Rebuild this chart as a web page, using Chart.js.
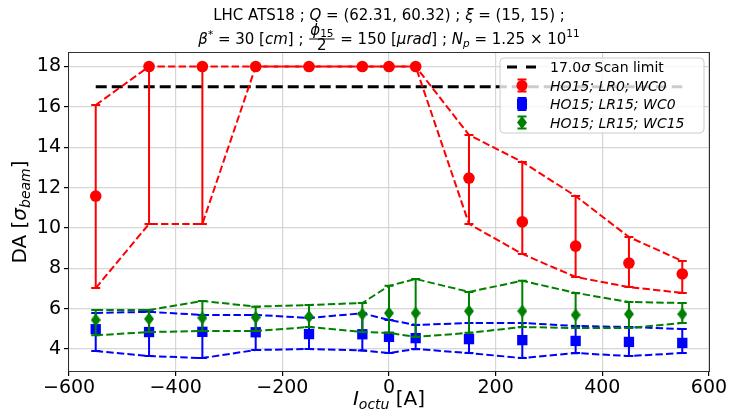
<!DOCTYPE html>
<html><head><meta charset="utf-8">
<script src="https://cdn.jsdelivr.net/npm/chart.js@4.4.0/dist/chart.umd.min.js"></script>
<style>html,body{margin:0;padding:0;background:#fff;}#wrap{width:731px;height:413px;}</style>
</head><body><div id="wrap"><canvas id="c" width="731" height="413"></canvas></div>
<script>
// ---- data ----
const currents = [-550, -450, -350, -250, -150, -50, 0, 50, 150, 250, 350, 450, 550];
const xTicks = [-600, -400, -200, 0, 200, 400, 600];
const yTicks = [4, 6, 8, 10, 12, 14, 16, 18];
const scanLimit = 17.0;

const redMean  = [11.58, 18, 18, 18, 18, 18, 18, 18, 12.47, 10.30, 9.10, 8.26, 7.72];
const redUpper = [16.09, 18, 18, 18, 18, 18, 18, 18, 14.61, 13.27, 11.58, 9.55, 8.36];
const redLower = [7.02, 10.20, 10.20, 18, 18, 18, 18, 18, 10.20, 8.71, 7.57, 7.07, 6.78];

const blueMean  = [4.98, 4.84, 4.85, 4.83, 4.74, 4.73, 4.60, 4.54, 4.49, 4.44, 4.40, 4.35, 4.30];
const blueUpper = [5.79, 5.84, 5.69, 5.69, 5.54, 5.77, 5.44, 5.19, 5.29, 5.29, 5.14, 5.09, 4.99];
const blueLower = [3.90, 3.65, 3.55, 3.95, 4.00, 3.93, 3.80, 4.00, 3.80, 3.55, 3.80, 3.65, 3.80];

const greenMean  = [5.44, 5.49, 5.54, 5.57, 5.60, 5.73, 5.78, 5.78, 5.88, 5.88, 5.69, 5.73, 5.73];
const greenUpper = [5.93, 5.93, 6.38, 6.10, 6.18, 6.28, 7.13, 7.47, 6.83, 7.38, 6.78, 6.33, 6.28];
const greenLower = [4.68, 4.84, 4.89, 4.89, 5.09, 4.84, 4.80, 4.60, 4.80, 5.09, 5.04, 5.04, 5.29];

const seriesLabels = ['17.0σ Scan limit', 'HO15; LR0; WC0', 'HO15; LR15; WC0', 'HO15; LR15; WC15'];

// ---- helpers ----
const FAM = '"DejaVu Sans"';
const RED = '#ff0000', BLUE = '#0000ff', GREEN = '#008000';
const pts = (xs, ys) => xs.map((x, i) => ({x: x, y: ys[i]}));
const fmt = v => (v < 0 ? '\u2212' + Math.abs(v) : String(v));

function thinDiamond(w, h, color) {
  const c = document.createElement('canvas');
  c.width = w; c.height = h;
  const g = c.getContext('2d');
  g.fillStyle = color;
  g.beginPath(); g.moveTo(w / 2, 0); g.lineTo(w, h / 2); g.lineTo(w / 2, h); g.lineTo(0, h / 2); g.closePath(); g.fill();
  return c;
}
const greenDiamond = thinDiamond(10, 13, GREEN);

function measureSegs(ctx, segs) {
  let w = 0;
  segs.forEach(s => {
    if (s.frac) {
      const nw = measureSegs(ctx, s.num);
      const dw = measureSegs(ctx, s.den);
      s.w = Math.max(nw, dw) + 4; s.nw = nw; s.dw = dw;
    } else {
      ctx.font = s.f; s.w = ctx.measureText(s.t).width;
    }
    w += s.w;
  });
  return w;
}
function drawSegs(ctx, segs, x, y) {
  let cx = x;
  segs.forEach(s => {
    if (s.frac) {
      const mid = cx + s.w / 2;
      drawSegs(ctx, s.num, mid - s.nw / 2, y + s.numDy);
      drawSegs(ctx, s.den, mid - s.dw / 2, y + s.denDy);
      ctx.fillRect(cx + 1, y + s.barDy - 0.5, s.w - 2, 1);
    } else {
      ctx.font = s.f; ctx.fillText(s.t, cx, y + (s.dy || 0));
    }
    cx += s.w;
  });
}
function drawRich(ctx, segs, x, y, align) {
  const w = measureSegs(ctx, segs);
  const sx = align === 'left' ? x : (align === 'right' ? x - w : x - w / 2);
  drawSegs(ctx, segs, sx, y);
}

function drawErrorBars(chart, xs, lo, hi, color) {
  const ctx = chart.ctx, X = chart.scales.x, Y = chart.scales.y;
  ctx.save();
  ctx.beginPath(); ctx.rect(chart.chartArea.left, chart.chartArea.top, chart.chartArea.width, chart.chartArea.height); ctx.clip();
  ctx.strokeStyle = color; ctx.lineWidth = 2; ctx.setLineDash([]);
  xs.forEach((x, i) => {
    const px = X.getPixelForValue(x), p1 = Y.getPixelForValue(lo[i]), p2 = Y.getPixelForValue(hi[i]);
    ctx.beginPath();
    ctx.moveTo(px, p1); ctx.lineTo(px, p2);
    ctx.moveTo(px - 4.5, p1); ctx.lineTo(px + 4.5, p1);
    ctx.moveTo(px - 4.5, p2); ctx.lineTo(px + 4.5, p2);
    ctx.stroke();
  });
  ctx.restore();
}

const decorPlugin = {
  id: 'decor',
  beforeDatasetDraw(chart, args) {
    const ds = chart.data.datasets[args.index];
    if (ds.errLo) drawErrorBars(chart, currents, ds.errLo, ds.errHi, ds.errColor);
  },
  afterDraw(chart) {
    const ctx = chart.ctx, a = chart.chartArea;
    ctx.save();
    // frame
    ctx.strokeStyle = 'rgba(0,0,0,0.8)'; ctx.lineWidth = 1; ctx.setLineDash([]);
    ctx.strokeRect(Math.round(a.left) + 0.5, Math.round(a.top) + 0.5, Math.round(a.width) - 1, Math.round(a.height) - 1);

    ctx.fillStyle = '#000'; ctx.textBaseline = 'alphabetic';
    const cx = (a.left + a.right) / 2;
    const n = '15px ' + FAM, it = 'italic 15px ' + FAM, sm = '10.5px ' + FAM, smi = 'italic 10.5px ' + FAM;
    // title line 1
    drawRich(ctx, [
      {t: 'LHC ATS18 ; ', f: n}, {t: 'Q', f: it}, {t: ' = (62.31, 60.32) ; ', f: n},
      {t: 'ξ', f: it}, {t: ' = (15, 15) ;', f: n}
    ], cx, 20, 'center');
    // title line 2
    drawRich(ctx, [
      {t: 'β', f: it}, {t: '*', f: sm, dy: -6}, {t: ' = 30 [', f: n}, {t: 'cm', f: it}, {t: '] ; ', f: n},
      {frac: true, numDy: -9, denDy: 6, barDy: -5,
        num: [{t: 'ϕ', f: it}, {t: '15', f: sm, dy: 2}], den: [{t: '2', f: n}]},
      {t: ' = 150 [', f: n}, {t: 'μrad', f: it}, {t: '] ; ', f: n},
      {t: 'N', f: it}, {t: 'p', f: smi, dy: 3}, {t: ' = 1.25 × 10', f: n}, {t: '11', f: sm, dy: -7}
    ], cx, 44, 'center');

    // x-axis title
    drawRich(ctx, [
      {t: 'I', f: 'italic 20px ' + FAM}, {t: 'octu', f: 'italic 14px ' + FAM, dy: 4}, {t: ' [A]', f: '20px ' + FAM}
    ], cx, 405, 'center');
    // y-axis title
    ctx.save();
    ctx.translate(26, (a.top + a.bottom) / 2);
    ctx.rotate(-Math.PI / 2);
    drawRich(ctx, [
      {t: 'DA [', f: '20px ' + FAM}, {t: 'σ', f: 'italic 20px ' + FAM},
      {t: 'beam', f: 'italic 14px ' + FAM, dy: 4}, {t: ']', f: '20px ' + FAM}
    ], 0, 0, 'center');
    ctx.restore();

    // legend
    const lx = 500, ly = 58, lw = 204, lh = 75, r = 4;
    ctx.beginPath();
    ctx.moveTo(lx + r, ly); ctx.lineTo(lx + lw - r, ly); ctx.quadraticCurveTo(lx + lw, ly, lx + lw, ly + r);
    ctx.lineTo(lx + lw, ly + lh - r); ctx.quadraticCurveTo(lx + lw, ly + lh, lx + lw - r, ly + lh);
    ctx.lineTo(lx + r, ly + lh); ctx.quadraticCurveTo(lx, ly + lh, lx, ly + lh - r);
    ctx.lineTo(lx, ly + r); ctx.quadraticCurveTo(lx, ly, lx + r, ly); ctx.closePath();
    ctx.fillStyle = 'rgba(255,255,255,0.8)'; ctx.fill();
    ctx.strokeStyle = '#cccccc'; ctx.lineWidth = 1; ctx.stroke();

    const rows = [67, 85.5, 104, 122.5];
    const hx = 522, tx = 550;
    ctx.strokeStyle = '#000'; ctx.lineWidth = 3; ctx.setLineDash([10, 9]);
    ctx.beginPath(); ctx.moveTo(507, rows[0]); ctx.lineTo(538, rows[0]); ctx.stroke();
    ctx.setLineDash([]);
    const colors = [RED, BLUE, GREEN];
    for (let k = 0; k < 3; k++) {
      const y = rows[k + 1];
      ctx.strokeStyle = colors[k]; ctx.lineWidth = 2;
      ctx.beginPath();
      ctx.moveTo(hx, y - 6); ctx.lineTo(hx, y + 6);
      ctx.moveTo(hx - 4.5, y - 6); ctx.lineTo(hx + 4.5, y - 6);
      ctx.moveTo(hx - 4.5, y + 6); ctx.lineTo(hx + 4.5, y + 6);
      ctx.stroke();
      ctx.fillStyle = colors[k];
      if (k === 0) { ctx.beginPath(); ctx.arc(hx, y, 5.5, 0, Math.PI * 2); ctx.fill(); }
      else if (k === 1) { ctx.fillRect(hx - 5, y - 5, 10, 10); }
      else { ctx.drawImage(greenDiamond, hx - 5, y - 6.5); }
    }
    ctx.fillStyle = '#000';
    const lf = '14px ' + FAM, lfi = 'italic 14px ' + FAM;
    drawRich(ctx, [{t: '17.0', f: lf}, {t: 'σ', f: lfi}, {t: ' Scan limit', f: lf}], tx, rows[0] + 5, 'left');
    for (let k = 1; k < 4; k++) drawRich(ctx, [{t: seriesLabels[k], f: lfi}], tx, rows[k] + 5, 'left');
    ctx.restore();
  }
};

const boundLine = (ys, color, order) => ({
  data: pts(currents, ys), showLine: true, borderColor: color, borderWidth: 2,
  borderDash: [7.4, 3.2], pointRadius: 0, fill: false, tension: 0, order: order
});
const markers = (ys, color, style, radius, lo, hi, order, label) => ({
  label: label, data: pts(currents, ys), showLine: false, pointStyle: style, pointRadius: radius,
  pointBackgroundColor: color, pointBorderColor: color, pointBorderWidth: 0,
  errLo: lo, errHi: hi, errColor: color, order: order
});

const datasets = [
  {label: seriesLabels[0], data: [{x: currents[0], y: scanLimit}, {x: currents[currents.length - 1], y: scanLimit}],
   showLine: true, borderColor: '#000', borderWidth: 3, borderDash: [11, 5], pointRadius: 0, order: 10},
  boundLine(redUpper, RED, 9), boundLine(redLower, RED, 9),
  markers(redMean, RED, 'circle', 5.8, redLower, redUpper, 8, seriesLabels[1]),
  boundLine(blueUpper, BLUE, 7), boundLine(blueLower, BLUE, 7),
  markers(blueMean, BLUE, 'rect', 7.3, blueLower, blueUpper, 6, seriesLabels[2]),
  boundLine(greenUpper, GREEN, 5), boundLine(greenLower, GREEN, 5),
  markers(greenMean, GREEN, greenDiamond, 6, greenLower, greenUpper, 4, seriesLabels[3])
];

const tickFont = {family: 'DejaVu Sans', size: 19};
new Chart(document.getElementById('c'), {
  type: 'scatter',
  data: {datasets: datasets},
  options: {
    responsive: false, animation: false, devicePixelRatio: 1,
    layout: {padding: {left: 0, right: 21, top: 52, bottom: 0}},
    plugins: {legend: {display: false}, title: {display: false}, tooltip: {enabled: false}},
    scales: {
      x: {
        type: 'linear', min: -602, max: 602,
        afterBuildTicks: s => { s.ticks = xTicks.map(v => ({value: v})); },
        afterFit: s => { s.height = 41; },
        ticks: {font: tickFont, color: '#000', padding: 1, maxRotation: 0, autoSkip: false, callback: fmt},
        grid: {color: '#d6d6d6', lineWidth: 1.2, tickLength: 4, tickColor: '#000', drawTicks: true},
        border: {display: false}
      },
      y: {
        type: 'linear', min: 2.86, max: 18.72,
        afterBuildTicks: s => { s.ticks = yTicks.map(v => ({value: v})); },
        afterFit: s => { s.width = 68; },
        ticks: {font: tickFont, color: '#000', padding: 3, autoSkip: false, callback: fmt},
        grid: {color: '#d6d6d6', lineWidth: 1.2, tickLength: 4, tickColor: '#000', drawTicks: true},
        border: {display: false}
      }
    }
  },
  plugins: [decorPlugin]
});
</script>
</body></html>
